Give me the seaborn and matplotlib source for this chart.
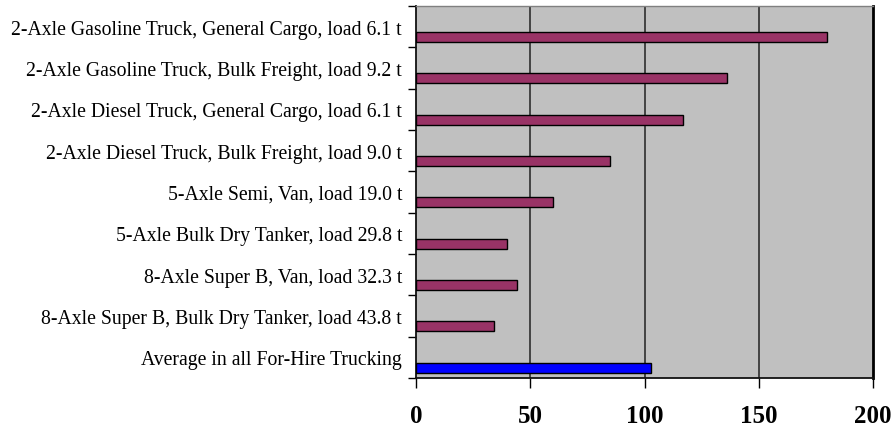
import numpy as np
import pandas as pd
import matplotlib
matplotlib.use("Agg")
import matplotlib.pyplot as plt
import seaborn as sns
from matplotlib.ticker import FixedLocator

categories = [
    "2-Axle Gasoline Truck, General Cargo, load 6.1 t",
    "2-Axle Gasoline Truck, Bulk Freight, load 9.2 t",
    "2-Axle Diesel Truck, General Cargo, load 6.1 t",
    "2-Axle Diesel Truck, Bulk Freight, load 9.0 t",
    "5-Axle Semi, Van, load 19.0 t",
    "5-Axle Bulk Dry Tanker, load 29.8 t",
    "8-Axle Super B, Van, load 32.3 t",
    "8-Axle Super B, Bulk Dry Tanker, load 43.8 t",
    "Average in all For-Hire Trucking",
]
values = [180, 136, 117, 85, 60, 40, 44, 34, 103]
groups = ["truck"] * 8 + ["average"]
x_ticks = [0, 50, 100, 150, 200]

sns.set_theme(style="white")
plt.rcParams["font.family"] = ["Liberation Serif", "DejaVu Serif"]
plt.rcParams["text.color"] = "black"
plt.rcParams["xtick.color"] = "black"
plt.rcParams["ytick.color"] = "black"

pos = np.arange(len(categories))
df = pd.DataFrame({
    "value": values,
    # bars sit in the lower part of each category band
    "pos": pos + 0.25,
    "group": groups,
})

fig = plt.figure(figsize=(8.96, 4.31), dpi=100)
ax = fig.add_axes([416 / 896, 1 - 379 / 431, (873 - 416) / 896, (379 - 7) / 431])
ax.set_facecolor("#C0C0C0")

sns.barplot(
    data=df, x="value", y="pos", hue="group", orient="h",
    native_scale=True, dodge=False, width=0.24, saturation=1,
    palette={"truck": "#993366", "average": "#0000FF"},
    edgecolor="black", linewidth=1.0, legend=False, ax=ax, zorder=3,
)

ax.set_xlim(0, 200)
ax.set_ylim(len(categories) - 0.5, -0.5)
ax.set_xlabel("")
ax.set_ylabel("")

ax.xaxis.set_major_locator(FixedLocator(x_ticks))
ax.set_xticklabels([str(t) for t in x_ticks], fontsize=18, fontweight="bold",
                   color="black")
ax.tick_params(axis="x", length=7, width=1, colors="black", direction="out",
               bottom=True, pad=12)

ax.set_yticks(pos)
ax.set_yticklabels(categories, fontsize=14.2, color="black")
ax.tick_params(axis="y", which="major", length=0, pad=10)
ax.yaxis.set_minor_locator(FixedLocator(np.arange(len(categories) + 1) - 0.5))
ax.tick_params(axis="y", which="minor", length=6, width=1, color="black",
               direction="out", left=True)

for v in x_ticks[1:-1]:
    ax.axvline(v, color="#222222", lw=1.1, zorder=1)

for side in ["left", "bottom"]:
    ax.spines[side].set_color("#111111")
    ax.spines[side].set_linewidth(1.3)
ax.spines["top"].set_color("#808080")
ax.spines["top"].set_linewidth(1.0)
ax.spines["right"].set_color("black")
ax.spines["right"].set_linewidth(2.0)

fig.savefig("out.png", dpi=100)
